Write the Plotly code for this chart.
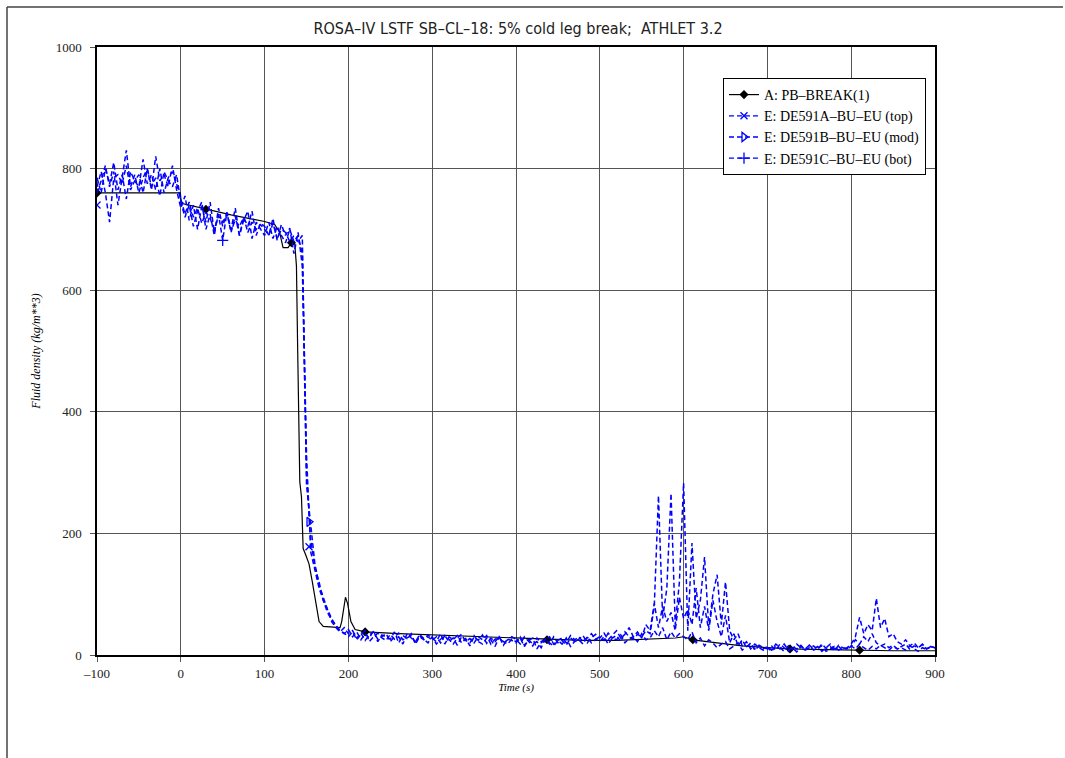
import plotly.graph_objects as go

# ---------------- data ----------------
# Experiment sampling grid (s)
time_exp = list(range(-100, 901, 5))

# E: DE591A-BU-EU (top)
rho_top = [
    770, 795, 760, 712, 785, 790, 775, 805, 765, 780, 790, 760, 800, 770, 785, 755, 795, 780, 770, 790,
    745, 720, 740, 705, 730, 745, 700, 725, 690, 735, 705, 728, 695, 722, 690, 715, 730, 685, 712, 700,
    690, 712, 685, 705, 690, 678, 700, 680, 690, 660, 330, 170, 140, 110, 90, 70, 58, 48, 40, 35,
    42, 30, 38, 25, 35, 28, 40, 22, 33, 30, 26, 38, 20, 32, 27, 35, 18, 30, 25, 33,
    28, 22, 35, 18, 30, 25, 32, 20, 27, 15, 30, 24, 33, 19, 28, 22, 30, 16, 26, 24,
    20, 28, 14, 25, 18, 22, 12, 26, 20, 15, 24, 18, 28, 14, 22, 25, 18, 30, 20, 26,
    22, 30, 18, 28, 25, 33, 20, 27, 30, 22, 35, 25, 28, 40, 30, 45, 25, 38, 28, 35,
    30, 25, 38, 20, 28, 15, 25, 20, 12, 18, 22, 10, 15, 20, 8, 14, 18, 10, 16, 12,
    10, 15, 8, 18, 12, 6, 14, 10, 16, 8, 12, 15, 9, 18, 11, 14, 7, 16, 12, 10,
    14, 25, 18, 30, 22, 35, 20, 15, 18, 12, 16, 10, 14, 18, 9, 15, 12, 17, 10, 14,
    12,
]

# E: DE591B-BU-EU (mod)
rho_mod = [
    785, 760, 800, 775, 810, 765, 790, 750, 795, 780, 770, 815, 775, 790, 765, 800, 760, 785, 795, 775,
    750, 725, 745, 720, 735, 710, 728, 718, 700, 722, 712, 725, 698, 715, 705, 720, 695, 712, 700, 708,
    700, 690, 710, 685, 700, 695, 680, 690, 680, 690, 280, 215, 150, 115, 95, 72, 55, 45, 38, 45,
    35, 40, 28, 36, 24, 33, 38, 26, 30, 35, 22, 30, 36, 25, 28, 32, 20, 34, 27, 30,
    24, 30, 20, 32, 26, 18, 28, 34, 22, 27, 20, 30, 25, 32, 18, 26, 29, 20, 25, 30,
    26, 18, 30, 22, 15, 28, 20, 25, 30, 18, 24, 28, 20, 32, 25, 30, 22, 28, 35, 26,
    30, 24, 36, 28, 32, 22, 38, 30, 26, 34, 30, 40, 35, 80, 262, 60, 110, 266, 50, 120,
    283, 40, 184, 60, 90, 161, 45, 100, 132, 50, 120, 40, 25, 35, 15, 22, 10, 18, 12, 8,
    12, 6, 15, 10, 18, 8, 12, 5, 14, 10, 16, 8, 12, 15, 6, 10, 14, 8, 12, 10,
    15, 10, 18, 12, 8, 14, 10, 16, 12, 8, 14, 10, 12, 8, 15, 10, 6, 12, 9, 14,
    10,
]

# E: DE591C-BU-EU (bot)
rho_bot = [
    760, 780, 805, 770, 795, 740, 785, 830, 770, 790, 760, 785, 800, 765, 820, 780, 790, 770, 805, 765,
    735, 755, 715, 740, 700, 738, 712, 745, 695, 725, 682, 728, 700, 735, 690, 720, 705, 730, 690, 710,
    705, 690, 718, 682, 708, 690, 702, 660, 695, 640, 300, 190, 145, 120, 90, 75, 60, 48, 40, 36,
    30, 38, 25, 34, 40, 22, 30, 36, 28, 24, 34, 26, 30, 18, 35, 28, 22, 32, 26, 20,
    30, 18, 26, 32, 22, 28, 16, 30, 24, 20, 32, 22, 18, 28, 25, 14, 30, 22, 18, 26,
    22, 30, 16, 24, 28, 10, 22, 26, 18, 30, 20, 24, 16, 28, 22, 26, 32, 20, 28, 34,
    28, 36, 25, 32, 40, 28, 34, 45, 30, 38, 28, 50, 40, 85, 45, 80, 55, 70, 40, 95,
    60, 75, 50, 110, 45, 80, 40, 90, 55, 30, 65, 20, 35, 15, 25, 12, 20, 8, 15, 10,
    14, 8, 18, 12, 6, 15, 10, 18, 12, 8, 16, 10, 14, 6, 12, 18, 10, 14, 8, 12,
    18, 30, 62, 35, 50, 40, 93, 45, 60, 30, 35, 22, 18, 25, 15, 20, 12, 18, 10, 14,
    12,
]

for _s in (rho_top, rho_mod, rho_bot):
    assert len(_s) == len(time_exp), (len(_s), len(time_exp))

# A: PB-BREAK(1) (ATHLET calculation)
time_calc = [-100, -50, -0.5, 0.5, 30, 60, 100, 112, 118, 122, 128, 132, 136, 138, 139.5, 141, 142,
             144, 146, 149, 153, 157, 161, 165, 170, 180, 190, 192, 195, 196.5, 199, 203, 208,
             215, 220, 260, 300, 350, 400, 437, 480, 520, 560, 590, 600, 611, 640, 670, 700,
             727, 770, 810, 850, 900]
rho_calc = [760, 760, 760, 743, 733, 724, 713, 708, 695, 670, 670, 678, 676, 640, 500, 330, 285,
            260, 175, 165, 150, 120, 85, 55, 47, 46, 45, 55, 88, 95, 85, 55, 42,
            40, 38, 35, 33, 30, 27, 25, 24, 24, 26, 28, 30, 25, 20, 15, 12,
            10, 9, 8, 7, 7]

# sparse symbol positions
calc_mark_t = [-100, 30, 132, 220, 437, 611, 727, 810]
calc_mark_rho = [760, 733, 678, 38, 25, 25, 10, 8]
top_mark_t = [-100, 153]
top_mark_rho = [740, 178]
mod_mark_t = [153]
mod_mark_rho = [219]
bot_mark_t = [50]
bot_mark_rho = [682]

legend_names = ["A: PB\u2013BREAK(1)", "E: DE591A\u2013BU\u2013EU (top)",
                "E: DE591B\u2013BU\u2013EU (mod)", "E: DE591C\u2013BU\u2013EU (bot)"]

x_ticks = [-100, 0, 100, 200, 300, 400, 500, 600, 700, 800, 900]
x_ticktext = ["\u2013100", "0", "100", "200", "300", "400", "500", "600", "700", "800", "900"]
y_ticks = [0, 200, 400, 600, 800, 1000]

title_text = "ROSA\u2013IV LSTF SB\u2013CL\u201318: 5% cold leg break;  ATHLET 3.2"

# ---------------- figure ----------------
BLUE = "#0000ff"
DASH = "5px,3px"
LW = 1.5
SERIF = "Liberation Serif, Times New Roman, serif"

fig = go.Figure()

fig.add_trace(go.Scatter(x=time_calc, y=rho_calc, mode="lines",
                         line=dict(color="black", width=1.2), showlegend=False, hoverinfo="skip"))
fig.add_trace(go.Scatter(x=calc_mark_t, y=calc_mark_rho, mode="markers",
                         marker=dict(symbol="diamond", size=7, color="black"),
                         showlegend=False, hoverinfo="skip"))

for t_list, series in ((time_exp, rho_top), (time_exp, rho_mod), (time_exp, rho_bot)):
    fig.add_trace(go.Scatter(x=t_list, y=series, mode="lines",
                             line=dict(color=BLUE, width=LW, dash=DASH),
                             showlegend=False, hoverinfo="skip"))

fig.add_trace(go.Scatter(x=top_mark_t, y=top_mark_rho, mode="markers",
                         marker=dict(symbol="x-thin-open", size=7, color=BLUE, line=dict(color=BLUE, width=1.3)),
                         showlegend=False, hoverinfo="skip"))
fig.add_trace(go.Scatter(x=mod_mark_t, y=mod_mark_rho, mode="markers",
                         marker=dict(symbol="triangle-right-open", size=8, color=BLUE, line=dict(color=BLUE, width=1.3)),
                         showlegend=False, hoverinfo="skip"))
fig.add_trace(go.Scatter(x=bot_mark_t, y=bot_mark_rho, mode="markers",
                         marker=dict(symbol="cross-thin-open", size=8, color=BLUE, line=dict(color=BLUE, width=1.3)),
                         showlegend=False, hoverinfo="skip"))

# legend-only entries
leg_styles = [
    dict(line=dict(color="black", width=1.2), marker=dict(symbol="diamond", size=7, color="black")),
    dict(line=dict(color=BLUE, width=1.3, dash=DASH),
         marker=dict(symbol="x-thin-open", size=7, color=BLUE, line=dict(color=BLUE, width=1.3))),
    dict(line=dict(color=BLUE, width=1.3, dash=DASH),
         marker=dict(symbol="triangle-right-open", size=8, color=BLUE, line=dict(color=BLUE, width=1.3))),
    dict(line=dict(color=BLUE, width=1.3, dash=DASH),
         marker=dict(symbol="cross-thin-open", size=8, color=BLUE, line=dict(color=BLUE, width=1.3))),
]
for name, st in zip(legend_names, leg_styles):
    fig.add_trace(go.Scatter(x=[None], y=[None], mode="lines+markers", name=name, **st))

# plot area: left 97, right 935, top 47, bottom 655 (pixels) in 1065x758
L, R, T, B = 97, 935, 47, 655
W, H = 1065, 758
pw, ph = R - L, B - T

def px2paper_x(px):
    return (px - L) / pw

def px2paper_y(py):
    return (B - py) / ph

# outer frame: top and left edges only
fig.add_shape(type="line", xref="paper", yref="paper",
              x0=px2paper_x(7), x1=px2paper_x(1063), y0=px2paper_y(7), y1=px2paper_y(7),
              line=dict(color="#444444", width=1.5), layer="below")
fig.add_shape(type="line", xref="paper", yref="paper",
              x0=px2paper_x(7), x1=px2paper_x(7), y0=px2paper_y(7), y1=px2paper_y(760),
              line=dict(color="#444444", width=1.5), layer="below")

fig.update_layout(
    width=W, height=H,
    margin=dict(l=L, r=W - R, t=T, b=H - B, pad=0),
    paper_bgcolor="white", plot_bgcolor="white",
    title=dict(text=title_text, x=518 / W, xanchor="center", y=1 - 28 / H, yanchor="middle",
               font=dict(family="DejaVu Sans Condensed, DejaVu Sans, sans-serif", size=16, color="#222222")),
    legend=dict(x=px2paper_x(723), y=px2paper_y(78), xanchor="left", yanchor="top",
                bgcolor="white", bordercolor="black", borderwidth=1,
                font=dict(family=SERIF, size=14, color="black"),
                itemwidth=30, tracegroupgap=0),
    showlegend=True,
)

fig.update_xaxes(range=[-100, 900], tickvals=x_ticks, ticktext=x_ticktext,
                 showgrid=True, gridcolor="#555555", gridwidth=1,
                 showline=True, linecolor="black", linewidth=2, mirror=True,
                 ticks="outside", ticklen=5, tickcolor="#555555",
                 tickfont=dict(family=SERIF, size=13, color="#222222"),
                 zeroline=False,
                 title=dict(text="<i>Time (s)</i>", font=dict(family=SERIF, size=11, color="black"), standoff=0))
fig.update_yaxes(range=[0, 1000], tickvals=y_ticks,
                 showgrid=True, gridcolor="#555555", gridwidth=1,
                 showline=True, linecolor="black", linewidth=1.5, mirror=True,
                 ticks="outside", ticklen=5, tickcolor="#555555", ticklabelstandoff=6,
                 tickfont=dict(family=SERIF, size=13, color="#222222"),
                 zeroline=False,
                 title=dict(text="<i>Fluid density (kg/m**3)</i>", font=dict(family=SERIF, size=12, color="black"), standoff=12))

fig.write_html("out.html")
